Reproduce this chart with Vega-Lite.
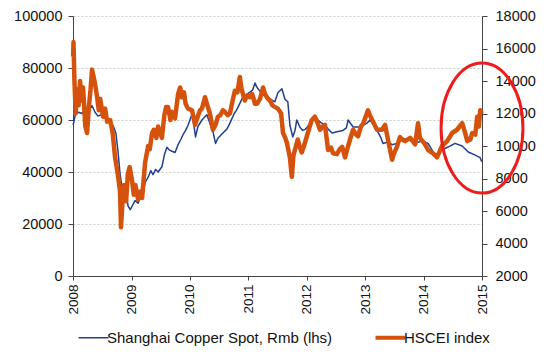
{
  "$schema": "https://vega.github.io/schema/vega-lite/v6.json",
  "width": 409,
  "height": 260,
  "autosize": {"type": "none"},
  "padding": {"left": 73, "top": 16, "right": 68, "bottom": 79},
  "background": "white",
  "config": {
    "view": {"stroke": null},
    "font": "Liberation Sans",
    "axis": {"labelFont": "Liberation Sans", "labelColor": "#111", "domainColor": "#444", "tickColor": "#444", "title": null}
  },
  "datasets": {
    "copper": [
      {"date": "2008-01-02", "value": 58000}, {"date": "2008-01-15", "value": 62000}, {"date": "2008-02-05", "value": 63000},
      {"date": "2008-02-25", "value": 62500}, {"date": "2008-03-15", "value": 64000}, {"date": "2008-04-05", "value": 63500},
      {"date": "2008-04-29", "value": 65500}, {"date": "2008-05-18", "value": 63000}, {"date": "2008-06-05", "value": 61500},
      {"date": "2008-06-25", "value": 62000}, {"date": "2008-07-15", "value": 61500}, {"date": "2008-08-05", "value": 60500},
      {"date": "2008-08-25", "value": 59000}, {"date": "2008-09-10", "value": 57500}, {"date": "2008-09-25", "value": 55000},
      {"date": "2008-10-08", "value": 48000}, {"date": "2008-10-21", "value": 39500}, {"date": "2008-11-02", "value": 34000},
      {"date": "2008-11-15", "value": 31000}, {"date": "2008-11-28", "value": 32500}, {"date": "2008-12-10", "value": 27000},
      {"date": "2008-12-24", "value": 25500}, {"date": "2009-01-10", "value": 27500}, {"date": "2009-01-23", "value": 29000},
      {"date": "2009-02-11", "value": 28000}, {"date": "2009-02-25", "value": 30500}, {"date": "2009-03-08", "value": 29500},
      {"date": "2009-03-27", "value": 36000}, {"date": "2009-04-15", "value": 38000}, {"date": "2009-05-01", "value": 40500},
      {"date": "2009-05-15", "value": 39000}, {"date": "2009-06-01", "value": 41000}, {"date": "2009-06-16", "value": 40000},
      {"date": "2009-07-10", "value": 42000}, {"date": "2009-07-25", "value": 46500}, {"date": "2009-08-10", "value": 49500},
      {"date": "2009-08-25", "value": 48500}, {"date": "2009-09-11", "value": 48000}, {"date": "2009-09-30", "value": 47500},
      {"date": "2009-10-19", "value": 50500}, {"date": "2009-11-05", "value": 52500}, {"date": "2009-11-20", "value": 54500},
      {"date": "2009-12-05", "value": 56000}, {"date": "2009-12-20", "value": 58000}, {"date": "2010-01-10", "value": 61500},
      {"date": "2010-01-20", "value": 60500}, {"date": "2010-02-05", "value": 53500}, {"date": "2010-02-20", "value": 57500},
      {"date": "2010-03-17", "value": 60000}, {"date": "2010-04-17", "value": 62000}, {"date": "2010-05-10", "value": 58000},
      {"date": "2010-05-25", "value": 55500}, {"date": "2010-06-10", "value": 51000}, {"date": "2010-06-25", "value": 53000},
      {"date": "2010-07-26", "value": 55000}, {"date": "2010-08-20", "value": 56500}, {"date": "2010-09-08", "value": 58800},
      {"date": "2010-10-05", "value": 62500}, {"date": "2010-10-21", "value": 64000}, {"date": "2010-11-10", "value": 66500},
      {"date": "2010-11-28", "value": 68800}, {"date": "2010-12-15", "value": 69500}, {"date": "2011-01-11", "value": 70700},
      {"date": "2011-01-28", "value": 71500}, {"date": "2011-02-12", "value": 74200}, {"date": "2011-02-25", "value": 72500},
      {"date": "2011-03-15", "value": 71000}, {"date": "2011-04-03", "value": 71500}, {"date": "2011-04-15", "value": 70400},
      {"date": "2011-05-04", "value": 68800}, {"date": "2011-05-20", "value": 68000}, {"date": "2011-06-16", "value": 67000},
      {"date": "2011-07-05", "value": 70500}, {"date": "2011-07-30", "value": 72000}, {"date": "2011-08-18", "value": 68000},
      {"date": "2011-09-05", "value": 67000}, {"date": "2011-09-18", "value": 58000}, {"date": "2011-10-06", "value": 53500},
      {"date": "2011-10-20", "value": 56000}, {"date": "2011-10-31", "value": 60000}, {"date": "2011-11-19", "value": 57300},
      {"date": "2011-12-07", "value": 56000}, {"date": "2011-12-25", "value": 56500}, {"date": "2012-01-08", "value": 57500},
      {"date": "2012-02-08", "value": 60700}, {"date": "2012-03-11", "value": 60000}, {"date": "2012-03-30", "value": 59000},
      {"date": "2012-04-24", "value": 58000}, {"date": "2012-05-14", "value": 56500}, {"date": "2012-06-08", "value": 55000},
      {"date": "2012-07-08", "value": 55500}, {"date": "2012-08-15", "value": 56000}, {"date": "2012-09-05", "value": 57000},
      {"date": "2012-09-16", "value": 60000}, {"date": "2012-10-17", "value": 57300}, {"date": "2012-11-29", "value": 57300},
      {"date": "2013-01-12", "value": 58800}, {"date": "2013-01-31", "value": 60000}, {"date": "2013-02-20", "value": 58500},
      {"date": "2013-03-16", "value": 56000}, {"date": "2013-04-10", "value": 53000}, {"date": "2013-04-22", "value": 51000},
      {"date": "2013-05-23", "value": 51500}, {"date": "2013-06-18", "value": 50500}, {"date": "2013-07-18", "value": 51000},
      {"date": "2013-08-19", "value": 53000}, {"date": "2013-09-26", "value": 52500}, {"date": "2013-11-09", "value": 51000},
      {"date": "2013-12-22", "value": 52000}, {"date": "2014-01-29", "value": 51000}, {"date": "2014-03-14", "value": 46500},
      {"date": "2014-04-26", "value": 48500}, {"date": "2014-06-03", "value": 49600}, {"date": "2014-07-16", "value": 51000},
      {"date": "2014-08-30", "value": 50000}, {"date": "2014-10-07", "value": 47700}, {"date": "2014-11-20", "value": 46500},
      {"date": "2014-12-20", "value": 45500}, {"date": "2014-12-31", "value": 44000}
    ],
    "hscei": [
      {"date": "2008-01-02", "value": 15500}, {"date": "2008-01-04", "value": 16400}, {"date": "2008-01-10", "value": 14000},
      {"date": "2008-01-18", "value": 12000}, {"date": "2008-01-25", "value": 13500}, {"date": "2008-02-05", "value": 12500},
      {"date": "2008-02-14", "value": 14000}, {"date": "2008-02-25", "value": 12800}, {"date": "2008-03-04", "value": 13600},
      {"date": "2008-03-18", "value": 11200}, {"date": "2008-03-29", "value": 10800}, {"date": "2008-04-10", "value": 12500},
      {"date": "2008-04-20", "value": 13500}, {"date": "2008-04-29", "value": 14700}, {"date": "2008-05-10", "value": 14200},
      {"date": "2008-05-18", "value": 13800}, {"date": "2008-05-31", "value": 13000}, {"date": "2008-06-10", "value": 12200},
      {"date": "2008-06-19", "value": 12900}, {"date": "2008-07-07", "value": 11800}, {"date": "2008-07-20", "value": 12300},
      {"date": "2008-08-01", "value": 11500}, {"date": "2008-08-20", "value": 11600}, {"date": "2008-09-05", "value": 10800},
      {"date": "2008-09-20", "value": 9300}, {"date": "2008-10-08", "value": 8200}, {"date": "2008-10-21", "value": 7200},
      {"date": "2008-10-27", "value": 5000}, {"date": "2008-11-05", "value": 6500}, {"date": "2008-11-15", "value": 7600},
      {"date": "2008-11-28", "value": 6600}, {"date": "2008-12-09", "value": 8300}, {"date": "2008-12-20", "value": 8700},
      {"date": "2009-01-04", "value": 7900}, {"date": "2009-01-15", "value": 7000}, {"date": "2009-01-25", "value": 7600},
      {"date": "2009-02-11", "value": 6700}, {"date": "2009-02-25", "value": 7200}, {"date": "2009-03-08", "value": 6800},
      {"date": "2009-03-20", "value": 8200}, {"date": "2009-03-27", "value": 9000}, {"date": "2009-04-15", "value": 10000},
      {"date": "2009-04-25", "value": 9800}, {"date": "2009-05-09", "value": 10800}, {"date": "2009-05-20", "value": 11000},
      {"date": "2009-06-05", "value": 10500}, {"date": "2009-06-16", "value": 11200}, {"date": "2009-07-10", "value": 10500},
      {"date": "2009-07-25", "value": 11900}, {"date": "2009-08-05", "value": 12400}, {"date": "2009-08-17", "value": 12400},
      {"date": "2009-09-01", "value": 11600}, {"date": "2009-09-11", "value": 12100}, {"date": "2009-09-30", "value": 11700},
      {"date": "2009-10-19", "value": 13200}, {"date": "2009-11-01", "value": 13600}, {"date": "2009-11-12", "value": 13000},
      {"date": "2009-11-25", "value": 13300}, {"date": "2009-12-05", "value": 12600}, {"date": "2009-12-20", "value": 12300},
      {"date": "2010-01-14", "value": 12200}, {"date": "2010-02-02", "value": 11300}, {"date": "2010-02-15", "value": 11700},
      {"date": "2010-03-05", "value": 12200}, {"date": "2010-03-17", "value": 12300}, {"date": "2010-04-05", "value": 13000},
      {"date": "2010-04-20", "value": 12500}, {"date": "2010-05-06", "value": 12000}, {"date": "2010-05-25", "value": 11000},
      {"date": "2010-06-10", "value": 11300}, {"date": "2010-06-25", "value": 11800}, {"date": "2010-07-10", "value": 11900},
      {"date": "2010-07-26", "value": 12200}, {"date": "2010-08-08", "value": 12100}, {"date": "2010-08-25", "value": 11900},
      {"date": "2010-09-08", "value": 12000}, {"date": "2010-09-25", "value": 12800}, {"date": "2010-10-09", "value": 13400},
      {"date": "2010-10-25", "value": 13300}, {"date": "2010-11-09", "value": 14250}, {"date": "2010-11-20", "value": 13500},
      {"date": "2010-12-10", "value": 12800}, {"date": "2010-12-25", "value": 13100}, {"date": "2011-01-11", "value": 13000},
      {"date": "2011-01-25", "value": 13200}, {"date": "2011-02-12", "value": 12600}, {"date": "2011-02-24", "value": 12600},
      {"date": "2011-03-15", "value": 12900}, {"date": "2011-04-03", "value": 13600}, {"date": "2011-04-15", "value": 13200},
      {"date": "2011-05-04", "value": 12900}, {"date": "2011-05-16", "value": 12800}, {"date": "2011-06-01", "value": 12500},
      {"date": "2011-06-16", "value": 12400}, {"date": "2011-07-05", "value": 12300}, {"date": "2011-07-25", "value": 12000},
      {"date": "2011-08-06", "value": 10800}, {"date": "2011-08-20", "value": 10500}, {"date": "2011-08-30", "value": 10200},
      {"date": "2011-09-18", "value": 9300}, {"date": "2011-09-30", "value": 8100}, {"date": "2011-10-10", "value": 9400},
      {"date": "2011-10-19", "value": 9750}, {"date": "2011-11-06", "value": 10400}, {"date": "2011-11-20", "value": 9900},
      {"date": "2011-12-01", "value": 9600}, {"date": "2011-12-15", "value": 10000}, {"date": "2012-01-02", "value": 10600},
      {"date": "2012-01-20", "value": 11200}, {"date": "2012-02-02", "value": 11600}, {"date": "2012-02-21", "value": 11800},
      {"date": "2012-03-10", "value": 11400}, {"date": "2012-03-24", "value": 11000}, {"date": "2012-04-10", "value": 11200},
      {"date": "2012-04-24", "value": 11300}, {"date": "2012-05-14", "value": 9750}, {"date": "2012-06-01", "value": 9900},
      {"date": "2012-06-14", "value": 9550}, {"date": "2012-07-08", "value": 9500}, {"date": "2012-07-25", "value": 9800},
      {"date": "2012-08-10", "value": 9950}, {"date": "2012-08-28", "value": 9300}, {"date": "2012-09-16", "value": 10000},
      {"date": "2012-09-28", "value": 10400}, {"date": "2012-10-17", "value": 11000}, {"date": "2012-11-05", "value": 10700},
      {"date": "2012-11-17", "value": 10600}, {"date": "2012-12-05", "value": 11200}, {"date": "2012-12-20", "value": 11400},
      {"date": "2013-01-18", "value": 12200}, {"date": "2013-01-30", "value": 11900}, {"date": "2013-02-13", "value": 11600},
      {"date": "2013-03-16", "value": 11000}, {"date": "2013-04-16", "value": 11000}, {"date": "2013-05-05", "value": 11300},
      {"date": "2013-05-23", "value": 10400}, {"date": "2013-06-18", "value": 9150}, {"date": "2013-06-28", "value": 9500},
      {"date": "2013-07-18", "value": 9950}, {"date": "2013-08-06", "value": 10550}, {"date": "2013-08-20", "value": 10400},
      {"date": "2013-09-07", "value": 10300}, {"date": "2013-10-09", "value": 10500}, {"date": "2013-11-09", "value": 10100},
      {"date": "2013-11-27", "value": 11400}, {"date": "2013-12-09", "value": 10500}, {"date": "2014-01-10", "value": 10100},
      {"date": "2014-01-29", "value": 9750}, {"date": "2014-03-01", "value": 9550}, {"date": "2014-03-26", "value": 9300},
      {"date": "2014-04-26", "value": 10000}, {"date": "2014-05-28", "value": 10300}, {"date": "2014-06-28", "value": 10800},
      {"date": "2014-07-29", "value": 11000}, {"date": "2014-08-30", "value": 11400}, {"date": "2014-09-15", "value": 10900},
      {"date": "2014-10-01", "value": 10300}, {"date": "2014-10-20", "value": 10400}, {"date": "2014-11-01", "value": 10800},
      {"date": "2014-11-20", "value": 10700}, {"date": "2014-12-02", "value": 11800}, {"date": "2014-12-12", "value": 11200},
      {"date": "2014-12-21", "value": 12200}, {"date": "2014-12-31", "value": 12000}
    ],
    "circle": [{"date": "2015-01-01", "value": 56900}]
  },
  "layer": [
    {
      "data": {"name": "copper"},
      "mark": {"type": "line", "strokeWidth": 1.5, "strokeJoin": "round"},
      "encoding": {
        "x": {"field": "date", "type": "temporal",
          "scale": {"domain": ["2008-01-01", "2015-01-01"]},
          "axis": {"values": ["2008-01-01", "2009-01-01", "2010-01-01", "2011-01-01", "2012-01-01", "2013-01-01", "2014-01-01", "2015-01-01"],
            "format": "%Y", "labelAngle": 270, "labelFontSize": 13.5, "tickSize": 4, "labelPadding": 4, "grid": false}},
        "y": {"field": "value", "type": "quantitative",
          "scale": {"domain": [0, 100000]},
          "axis": {"values": [0, 20000, 40000, 60000, 80000, 100000], "format": "d", "labelFontSize": 14.5, "tickSize": 5, "labelPadding": 6,
            "grid": true, "gridDash": [2, 2], "gridColor": "#c8c8c8"}},
        "color": {"datum": "Shanghai Copper Spot, Rmb (lhs)", "type": "nominal",
          "scale": {"domain": ["Shanghai Copper Spot, Rmb (lhs)", "HSCEI index"], "range": ["#1f3f93", "#d4520b"]},
          "legend": {"orient": "none", "legendX": 13, "legendY": 314, "direction": "horizontal", "title": null,
            "symbolType": "stroke", "symbolSize": 900, "labelFontSize": 15, "labelFont": "Liberation Sans", "labelColor": "#111",
            "labelOffset": 6, "labelLimit": 300, "columnPadding": 34, "symbolStrokeWidth": 2, "padding": 0,
            "encode": {"symbols": {"update": {"strokeWidth": {"signal": "datum.value === 'HSCEI index' ? 4 : 1.5"}}}}}}
      }
    },
    {
      "data": {"name": "hscei"},
      "mark": {"type": "line", "strokeWidth": 4.5, "strokeJoin": "round"},
      "encoding": {
        "x": {"field": "date", "type": "temporal"},
        "y": {"field": "value", "type": "quantitative",
          "scale": {"domain": [2000, 18000]},
          "axis": {"orient": "right", "values": [2000, 4000, 6000, 8000, 10000, 12000, 14000, 16000, 18000], "format": "d",
            "labelFontSize": 14.5, "tickSize": 5, "labelPadding": 8, "grid": false}},
        "color": {"datum": "HSCEI index", "type": "nominal"}
      }
    },
    {
      "data": {"name": "circle"},
      "mark": {"type": "point", "filled": false, "stroke": "#ee1d1d", "strokeWidth": 3,
        "shape": "M-0.63,0A0.63,1 0 1,1 0.63,0A0.63,1 0 1,1 -0.63,0Z", "size": 16900, "opacity": 1},
      "encoding": {
        "x": {"field": "date", "type": "temporal"},
        "y": {"field": "value", "type": "quantitative", "scale": {"domain": [0, 100000]}, "axis": null}
      }
    }
  ],
  "resolve": {"scale": {"y": "independent"}}
}
